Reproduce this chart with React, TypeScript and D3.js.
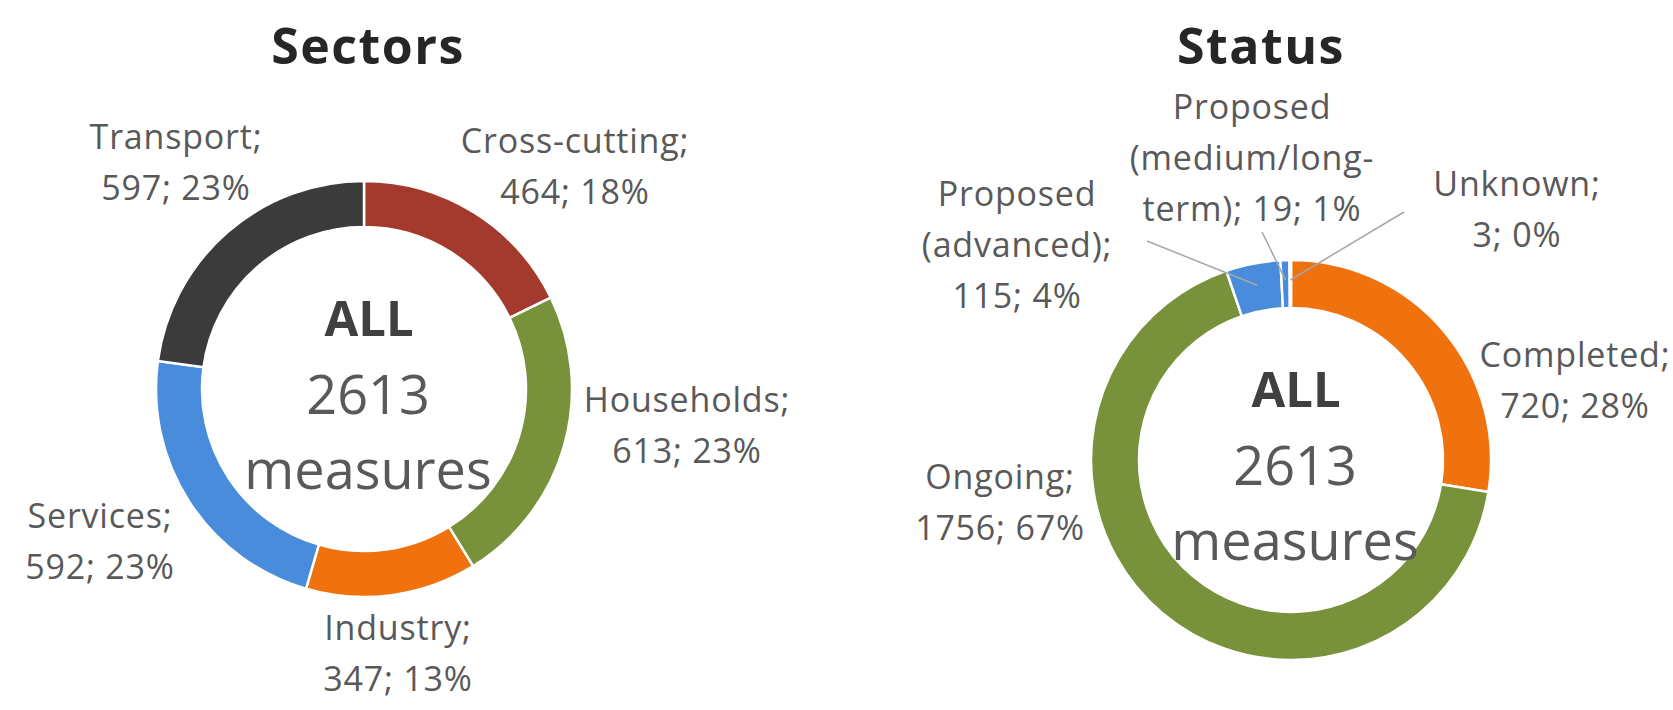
import React from 'react';
import * as d3 from 'd3';

// --- data ---
const sectorNames = ['Cross-cutting', 'Households', 'Industry', 'Services', 'Transport'];
const sectorValues = [464, 613, 347, 592, 597];
const sectorColors = ['#a33a2d', '#77923a', '#f0720f', '#4a8cdc', '#3b3b3b'];

const statusNames = ['Completed', 'Ongoing', 'Proposed (advanced)', 'Proposed (medium/long-term)', 'Unknown'];
const statusValues = [720, 1756, 115, 19, 3];
const statusColors = ['#f0720f', '#77923a', '#4a8cdc', '#4a8cdc', '#5b9bd5'];

// how each data label is broken into lines (text only)
const statusWraps: string[][] = [
  ['Completed;'],
  ['Ongoing;'],
  ['Proposed', '(advanced);'],
  ['Proposed', '(medium/long-', 'term);'],
  ['Unknown;'],
];

type ChartLayout = {
  title: string;
  cx: number;
  cy: number;
  outer: number;
  inner: number;
  titleDx: number;
  titleY: number;
  // label anchor (centre of first line baseline) relative to chart centre
  labelOffsets: [number, number][];
  leaders?: ({ from: [number, number]; r: number } | null)[];
};

const FONT = '"Open Sans", "Noto Sans", sans-serif';
const LINE_H = 51;

function buildLines(names: string[], values: number[], wraps?: string[][]): string[][] {
  const total = d3.sum(values);
  return names.map((n, i) => {
    const pct = Math.round((values[i] / total) * 100);
    const head = wraps ? wraps[i].slice() : [`${n};`];
    const tail = `${values[i]}; ${pct}%`;
    if (wraps && head.length === 3) {
      head[2] = `${head[2]} ${tail}`;
      return head;
    }
    return [...head, tail];
  });
}

const Donut: React.FC<{ layout: ChartLayout; values: number[]; colors: string[]; lines: string[][] }> = ({ layout, values, colors, lines }) => {
  const pie = d3.pie<number>().sort(null).value(d => d);
  const arcs = pie(values);
  const arc = d3.arc<d3.PieArcDatum<number>>().innerRadius(layout.inner).outerRadius(layout.outer);
  const total = d3.sum(values);

  return (
    <g transform={`translate(${layout.cx},${layout.cy})`}>
      <text x={layout.titleDx} y={layout.titleY - layout.cy} textAnchor="middle" fontFamily={FONT} fontWeight={700}
        fontSize={50} letterSpacing={1.5} fill="#262626">{layout.title}</text>
      {arcs.map((a, i) => (
        <path key={i} d={arc(a) || ''} fill={colors[i]} stroke="#ffffff" strokeWidth={2.5} />
      ))}
      {layout.leaders && layout.leaders.map((l, i) => {
        if (!l) return null;
        const a = arcs[i];
        const mid = (a.startAngle + a.endAngle) / 2;
        const ex = l.r * Math.sin(mid);
        const ey = -l.r * Math.cos(mid);
        return <line key={`l${i}`} x1={l.from[0]} y1={l.from[1]} x2={ex} y2={ey} stroke="#a6a6a6" strokeWidth={1.5} />;
      })}
      <text x={5} y={-53} textAnchor="middle" fontFamily={FONT} fontWeight={700} fontSize={49} fill="#404040">ALL</text>
      <text x={4} y={25} textAnchor="middle" fontFamily={FONT} fontSize={54} fill="#595959">{total}</text>
      <text x={4} y={100} textAnchor="middle" fontFamily={FONT} fontSize={54} fill="#595959">measures</text>
      {lines.map((ls, i) => {
        const [dx, dy] = layout.labelOffsets[i];
        return (
          <text key={`t${i}`} textAnchor="middle" fontFamily={FONT} fontSize={34} letterSpacing={0.8} fill="#595959">
            {ls.map((s, j) => (
              <tspan key={j} x={dx} y={dy + j * LINE_H}>{s}</tspan>
            ))}
          </text>
        );
      })}
    </g>
  );
};

const sectorLayout: ChartLayout = {
  title: 'Sectors',
  cx: 364,
  cy: 389,
  outer: 208,
  inner: 162,
  titleDx: 4,
  titleY: 64,
  labelOffsets: [[211, -236], [323, 23], [34, 251], [-264, 139], [-188, -240]],
};

const statusLayout: ChartLayout = {
  title: 'Status',
  cx: 1291,
  cy: 460,
  outer: 200,
  inner: 152,
  titleDx: -30,
  titleY: 64,
  labelOffsets: [[284, -93], [-291, 29], [-274, -254], [-39, -341], [226, -264]],
  leaders: [null, null, { from: [-144, -219], r: 178 }, { from: [-29, -228], r: 180 }, { from: [113, -248], r: 180 }],
};

export default function App() {
  const sectorLines = buildLines(sectorNames, sectorValues);
  const statusLines = buildLines(statusNames, statusValues, statusWraps);
  return (
    <div>
      <style>{`body{margin:0;background:#fff}`}</style>
      <svg width={1673} height={710} viewBox="0 0 1673 710" style={{ display: 'block' }}>
        <rect width={1673} height={710} fill="#ffffff" />
        <Donut layout={sectorLayout} values={sectorValues} colors={sectorColors} lines={sectorLines} />
        <Donut layout={statusLayout} values={statusValues} colors={statusColors} lines={statusLines} />
      </svg>
    </div>
  );
}
